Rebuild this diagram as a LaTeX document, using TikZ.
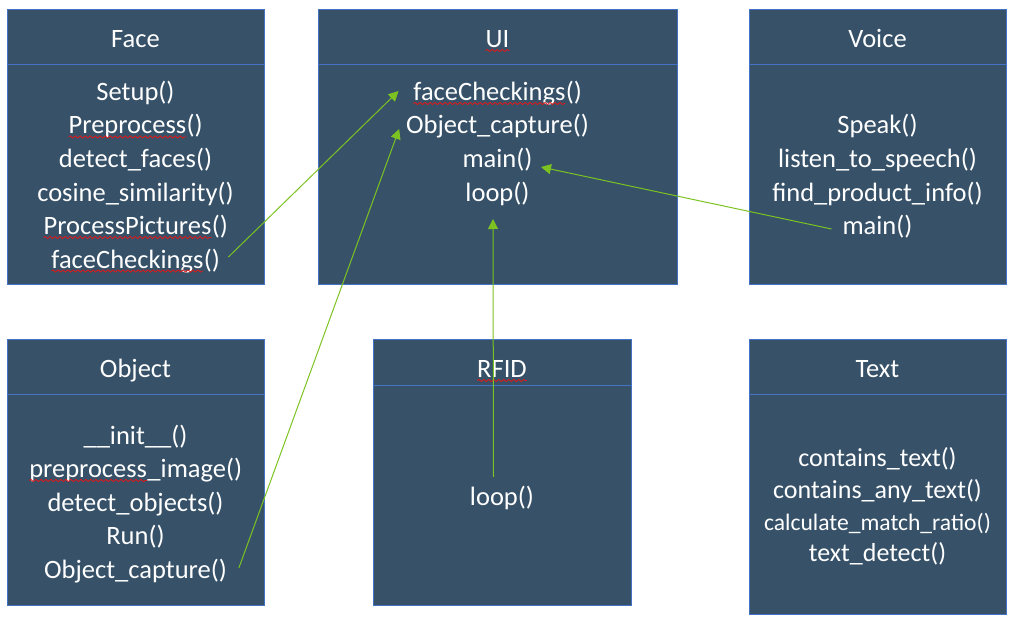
\documentclass[tikz,border=0pt]{standalone}
\usepackage{fontspec}
\setmainfont{Carlito}
\usetikzlibrary{arrows.meta,decorations.pathmorphing}
\definecolor{boxfill}{RGB}{54,81,104}
\definecolor{boxline}{RGB}{68,114,196}
\definecolor{arrgreen}{RGB}{124,195,34}
\definecolor{wavered}{RGB}{225,25,25}
\newcommand\rwave[1]{\tikz[baseline=(w.base)]{\node[inner sep=0pt,outer sep=0pt,anchor=base] (w) at (0,0) {#1};\draw[wavered, line width=0.8pt, decorate, decoration={snake, amplitude=1.1pt, segment length=5pt}] ([yshift=-3pt]w.base west) -- ([yshift=-3pt]w.base east);}}
\tikzset{
  classbox/.style={draw=boxline, line width=0.8pt, fill=boxfill, inner sep=0pt, anchor=north west},
  mt/.style={text=white, inner sep=0pt, outer sep=0pt, anchor=base, font=\fontsize{26.5}{32}\selectfont},
  mtsmall/.style={mt, font=\fontsize{23.6}{28}\selectfont},
  mtt/.style={mt, font=\fontsize{26}{31}\selectfont},
  arr/.style={draw=arrgreen, line width=1pt, -{Triangle[length=10pt,width=10pt]}}
}
\begin{document}
\begin{tikzpicture}[x=1pt,y=-1pt]
\useasboundingbox (0,0) rectangle (1013,623);
% ---- boxes
\node[classbox, minimum width=257pt, minimum height=220pt] (faceB) at (7,64) {};
\node[classbox, minimum width=257pt, minimum height=55pt] (faceH) at (7,9) {};
\node[classbox, minimum width=359pt, minimum height=220pt] (uiB) at (318,64) {};
\node[classbox, minimum width=359pt, minimum height=55pt] (uiH) at (318,9) {};
\node[classbox, minimum width=257pt, minimum height=220pt] (voiceB) at (749,64) {};
\node[classbox, minimum width=257pt, minimum height=55pt] (voiceH) at (749,9) {};
\node[classbox, minimum width=257pt, minimum height=211pt] (objB) at (7,394) {};
\node[classbox, minimum width=257pt, minimum height=55pt] (objH) at (7,339) {};
\node[classbox, minimum width=258pt, minimum height=220pt] (rfidB) at (373,385) {};
\node[classbox, minimum width=258pt, minimum height=46pt] (rfidH) at (373,339) {};
\node[classbox, minimum width=257pt, minimum height=220pt] (textB) at (749,394) {};
\node[classbox, minimum width=257pt, minimum height=55pt] (textH) at (749,339) {};
% ---- Face
\node[mt] (faceT) at (135.5,47.5) {Face};
\node[mt] (f1) at (135.5,100.5) {Setup()};
\node[mt] (f2) at (135.5,134) {\rwave{Preprocess}()};
\node[mt] (f3) at (135.5,167.5) {detect\_faces()};
\node[mt] (f4) at (135.5,201) {cosine\_similarity()};
\node[mt] (f5) at (135.5,234.5) {\rwave{ProcessPictures}()};
\node[mt] (f6) at (135.5,268) {\rwave{faceCheckings}()};
% ---- UI
\node[mt] (uiT) at (497.5,47.5) {\rwave{UI}};
\node[mt] (u1) at (497.5,100.5) {\rwave{faceCheckings}()};
\node[mt] (u2) at (497.5,134) {Object\_capture()};
\node[mt] (u3) at (497.5,167.5) {main()};
\node[mt] (u4) at (497.5,201) {loop()};
% ---- Voice
\node[mt] (voiceT) at (877.5,47.5) {Voice};
\node[mt] (v1) at (877.5,134) {Speak()};
\node[mt] (v2) at (877.5,167.5) {listen\_to\_speech()};
\node[mt] (v3) at (877.5,201) {find\_product\_info()};
\node[mt] (v4) at (877.5,234.5) {main()};
% ---- Object
\node[mt] (objT) at (135.5,377) {Object};
\node[mt] (o1) at (135.5,444) {\_\_init\_\_()};
\node[mt] (o2) at (135.5,477.5) {\rwave{preprocess}\_image()};
\node[mt] (o3) at (135.5,511) {detect\_objects()};
\node[mt] (o4) at (135.5,544.5) {Run()};
\node[mt] (o5) at (135.5,578) {Object\_capture()};
% ---- RFID
\node[mt] (rfidT) at (502,377.5) {\rwave{RFID}};
\node[mt] (r1) at (502,505.5) {loop()};
% ---- Text
\node[mt] (textT) at (877.5,377) {Text};
\node[mtt] (t1) at (877.5,466.5) {contains\_text()};
\node[mtt] (t2) at (877.5,498.8) {contains\_any\_text()};
\node[mtsmall] (t3) at (877.5,530) {calculate\_match\_ratio()};
\node[mtt] (t4) at (877.5,561.5) {text\_detect()};
% ---- connectors
\draw[arr] ([xshift=8.5pt,yshift=11pt]f6.base east) -- ([xshift=-14.5pt,yshift=9.5pt]u1.base west);
\draw[arr] ([xshift=12pt,yshift=10pt]o5.base east) -- ([xshift=-7pt,yshift=5pt]u2.base west);
\draw[arr] ([xshift=-8.5pt,yshift=28.5pt]r1.base) -- ([xshift=-4.5pt,yshift=-18pt]u4.base);
\draw[arr] ([xshift=-11pt,yshift=5.5pt]v4.base west) -- ([xshift=8.5pt,yshift=0.5pt]u3.base east);
\end{tikzpicture}
\end{document}
